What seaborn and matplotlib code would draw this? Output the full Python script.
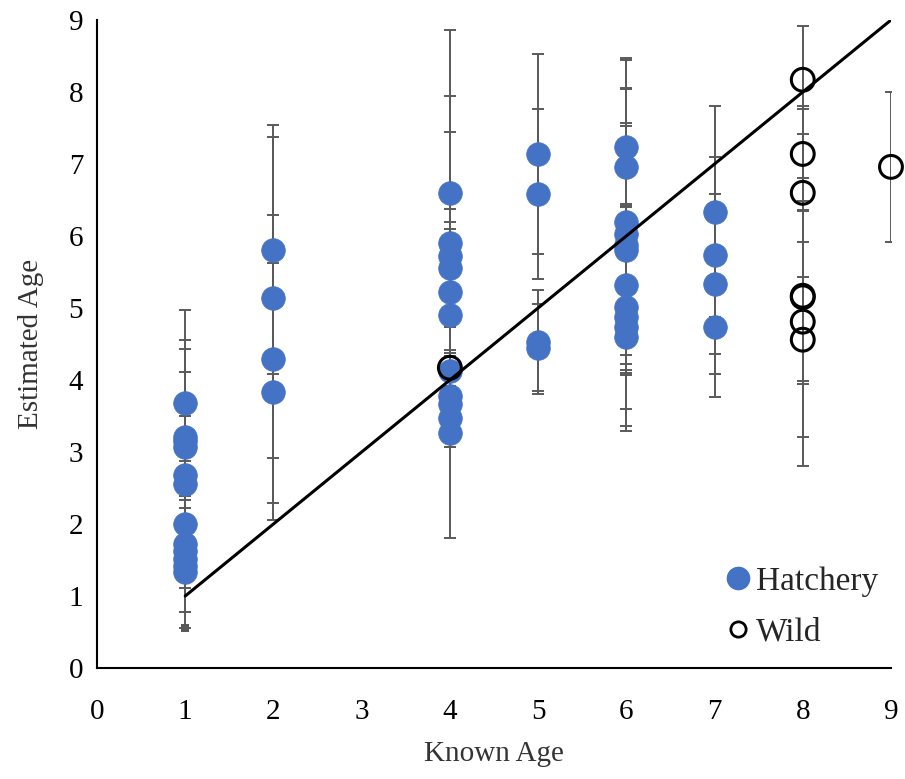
import numpy as np
import pandas as pd
import matplotlib
matplotlib.use("Agg")
import matplotlib.pyplot as plt
import seaborn as sns
from matplotlib.lines import Line2D

# ---------------- data ----------------
hatch_x = [1]*12 + [2]*4 + [4]*11 + [5]*4 + [6]*11 + [7]*4
hatch_y = [3.68, 3.21, 3.15, 3.07, 2.68, 2.55, 2.00, 1.72, 1.62, 1.52, 1.42, 1.33,
           5.81, 5.14, 4.29, 3.84,
           6.60, 5.90, 5.72, 5.55, 5.22, 4.90, 4.12, 3.78, 3.66, 3.47, 3.27,
           7.14, 6.58, 4.53, 4.45,
           7.24, 6.96, 6.20, 6.03, 5.88, 5.80, 5.32, 5.02, 4.88, 4.74, 4.60,
           6.34, 5.73, 5.34, 4.74]
hatch_err = [1.29, 1.35, 1.28, 1.04, 0.82, 0.33, 0.50, 0.61, 0.40, 0.30, 0.64, 0.77,
             1.73, 2.23, 2.00, 1.78,
             2.26, 2.05, 1.72, 0.82, 0.88, 1.30, 1.05, 0.60, 0.50, 0.40, 1.47,
             1.39, 1.18, 0.72, 0.60,
             1.21, 1.08, 1.85, 1.54, 2.59, 1.73, 1.10, 1.42, 1.52, 0.60, 0.50,
             1.47, 1.37, 1.25, 0.97]

wild_x = [4, 8, 8, 8, 8, 8, 8, 8, 9]
wild_y = [4.17, 8.17, 7.14, 6.60, 5.17, 5.15, 4.81, 4.56, 6.96]
wild_err = [0.25, 0.75, 0.66, 1.17, 1.19, 1.20, 2.00, 1.35, 1.04]

extra_x = [1]
extra_y = [0.56]

line_x = [1, 9]
line_y = [1, 9]

x_ticks = list(range(0, 10))
y_ticks = list(range(0, 10))

# ---------------- plot ----------------
sns.set_theme(style="white")
plt.rcParams['font.family'] = ['Liberation Serif', 'DejaVu Serif']

fig = plt.figure(figsize=(9.05, 7.79), dpi=100)
ax = fig.add_axes([0.1072, 0.1425, 0.8773, 0.8318])

blue = "#4472C4"
gray = "#5a5a5a"

ax.errorbar(hatch_x, hatch_y, yerr=hatch_err, fmt='none', ecolor=gray,
            elinewidth=1.4, capsize=4.5, capthick=1.4, zorder=1)
ax.errorbar(wild_x, wild_y, yerr=wild_err, fmt='none', ecolor=gray,
            elinewidth=1.4, capsize=4.5, capthick=1.4, zorder=1)

hdf = pd.DataFrame({"x": hatch_x, "y": hatch_y})

sns.scatterplot(data=hdf, x="x", y="y", ax=ax, color=blue, s=290,
                edgecolor=blue, linewidth=0.5, zorder=2, legend=False)
sns.scatterplot(x=extra_x, y=extra_y, ax=ax, color=gray, marker='s', s=30,
                linewidth=0, zorder=2, legend=False)
ax.scatter(wild_x, wild_y, s=270, facecolors='none', edgecolors='black',
           linewidths=2.2, zorder=3, clip_on=False)
sns.lineplot(x=line_x, y=line_y, ax=ax, color='black', linewidth=2.2, zorder=4)

ax.set_xlim(0, 9)
ax.set_ylim(0, 9)
ax.set_xticks(x_ticks)
ax.set_yticks(y_ticks)
ax.tick_params(axis='both', direction='in', length=7, width=1.3, color='black',
               labelsize=21, labelcolor='black')
ax.tick_params(axis='y', pad=10)
ax.tick_params(axis='x', pad=22)

for s in ['top', 'right']:
    ax.spines[s].set_visible(False)
for s in ['left', 'bottom']:
    ax.spines[s].set_color('black')
    ax.spines[s].set_linewidth(1.5)

ax.set_xlabel("Known Age", fontsize=21, color='#333333', labelpad=12)
ax.set_ylabel("Estimated Age", fontsize=21, color='#333333', labelpad=18)

handles = [
    Line2D([], [], marker='o', linestyle='none', markersize=16,
           markerfacecolor=blue, markeredgecolor=blue),
    Line2D([], [], marker='o', linestyle='none', markersize=11,
           markerfacecolor='none', markeredgecolor='black', markeredgewidth=2),
]
ax.legend(handles, ["Hatchery", "Wild"], loc='lower right',
          bbox_to_anchor=(1.022, -0.015), frameon=False, fontsize=24,
          handletextpad=0.05, labelspacing=0.62, handlelength=1.0)

fig.savefig("out.png", dpi=100)
